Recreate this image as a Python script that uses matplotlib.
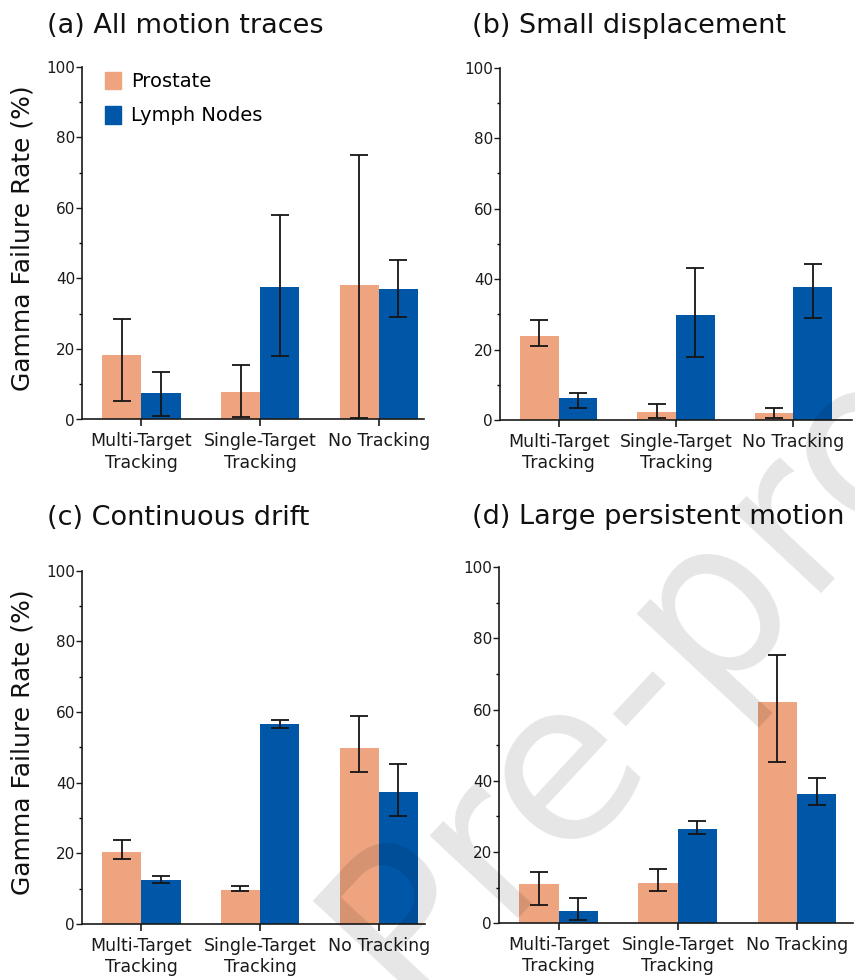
import matplotlib
matplotlib.use("Agg")
import matplotlib.pyplot as plt
from matplotlib.patches import Patch
import numpy as np

plt.rcParams['font.family'] = ['DejaVu Sans']

categories = ["Multi-Target\nTracking", "Single-Target\nTracking", "No Tracking"]
series_names = ["Prostate", "Lymph Nodes"]
titles = ["(a) All motion traces", "(b) Small displacement",
          "(c) Continuous drift", "(d) Large persistent motion"]

# values per panel: [MT, ST, NT]
prostate_mean = [[18.4, 7.8, 38.0], [23.8, 2.3, 1.9], [20.5, 9.7, 49.8], [11.0, 11.2, 62.1]]
prostate_low = [[5.2, 0.7, 0.5], [21.1, 0.7, 0.5], [18.4, 9.2, 43.0], [5.1, 9.1, 45.2]]
prostate_high = [[28.4, 15.4, 75.1], [28.5, 4.5, 3.5], [23.7, 10.7, 58.9], [14.5, 15.3, 75.2]]
lymph_mean = [[7.4, 37.6, 37.1], [6.1, 29.8, 37.7], [12.5, 56.7, 37.3], [3.5, 26.4, 36.2]]
lymph_low = [[1.0, 18.0, 29.1], [3.5, 18.0, 29.0], [11.6, 55.5, 30.5], [1.0, 25.1, 33.3]]
lymph_high = [[13.5, 57.9, 45.2], [7.8, 43.0, 44.3], [13.6, 57.8, 45.3], [7.2, 28.7, 40.7]]

C_PROSTATE = "#EDA47F"
C_LYMPH = "#0057A8"

W, H = 855, 980
fig = plt.figure(figsize=(W / 100, H / 100), dpi=100)

# (left_px, top_px, right_px, bottom_px)
boxes = [(82, 66.7, 424, 419.5), (500, 67.5, 852, 420),
         (82, 570.7, 425, 924), (499, 567, 853, 923.3)]
xlims = [(-0.5, 2.38), (-0.5, 2.5), (-0.5, 2.39), (-0.5, 2.47)]
title_pos = [(47, 26), (472, 26), (47, 518), (472, 517)]

bw = 0.33
x = np.arange(len(categories))
for i, (l, t, r, b) in enumerate(boxes):
    ax = fig.add_axes([l / W, 1 - b / H, (r - l) / W, (b - t) / H])
    pm = np.array(prostate_mean[i]); lm = np.array(lymph_mean[i])
    perr = [pm - np.array(prostate_low[i]), np.array(prostate_high[i]) - pm]
    lerr = [lm - np.array(lymph_low[i]), np.array(lymph_high[i]) - lm]
    ax.bar(x - bw / 2, pm, bw, color=C_PROSTATE, zorder=2)
    ax.bar(x + bw / 2, lm, bw, color=C_LYMPH, zorder=2)
    ax.errorbar(x - bw / 2, pm, yerr=perr, fmt='none', ecolor='#151515',
                elinewidth=1.3, capsize=6.5, capthick=1.3, zorder=3)
    ax.errorbar(x + bw / 2, lm, yerr=lerr, fmt='none', ecolor='#151515',
                elinewidth=1.3, capsize=6.5, capthick=1.3, zorder=3)
    ax.set_ylim(0, 100)
    ax.set_xlim(*xlims[i])
    ax.set_yticks([0, 20, 40, 60, 80, 100])
    ax.set_yticks([10, 30, 50, 70, 90], minor=True)
    ax.set_xticks(x)
    ax.set_xticklabels(categories, fontsize=12.5, linespacing=1.25)
    ax.tick_params(axis='y', labelsize=11, length=4, width=1, pad=1, colors='#1a1a1a')
    ax.tick_params(axis='y', which='minor', length=2.5, width=1)
    ax.tick_params(axis='x', length=5, width=1.2, pad=4, colors='#1a1a1a')
    for s in ['top', 'right']:
        ax.spines[s].set_visible(False)
    for s in ['left', 'bottom']:
        ax.spines[s].set_linewidth(1.2)
        ax.spines[s].set_color('#1a1a1a')
    tx, ty = title_pos[i]
    fig.text(tx / W, 1 - ty / H, titles[i], fontsize=19.5, ha='left', va='center', color='#111111')
    if i in (0, 2):
        fig.text(23 / W, 1 - ((t + b) / 2 - 5) / H, "Gamma Failure Rate (%)", rotation=90,
                 fontsize=18, ha='center', va='center', color='#111111')
    if i == 0:
        handles = [Patch(color=C_PROSTATE), Patch(color=C_LYMPH)]
        ax.legend(handles, series_names, loc='upper left',
                  bbox_to_anchor=((105 - l) / (r - l), 1 - 5 / (b - t)), borderpad=0,
                  borderaxespad=0, frameon=False, fontsize=14, handlelength=0.82,
                  handleheight=1.03, handletextpad=0.5, labelspacing=0.75)

# watermark
fig.text(410 / W, 1 - 1012 / H, "Pre-proof", rotation=47, rotation_mode='anchor',
         ha='left', va='baseline', fontsize=160, color='black', alpha=0.1, zorder=10)

fig.savefig("out.png", dpi=100)
